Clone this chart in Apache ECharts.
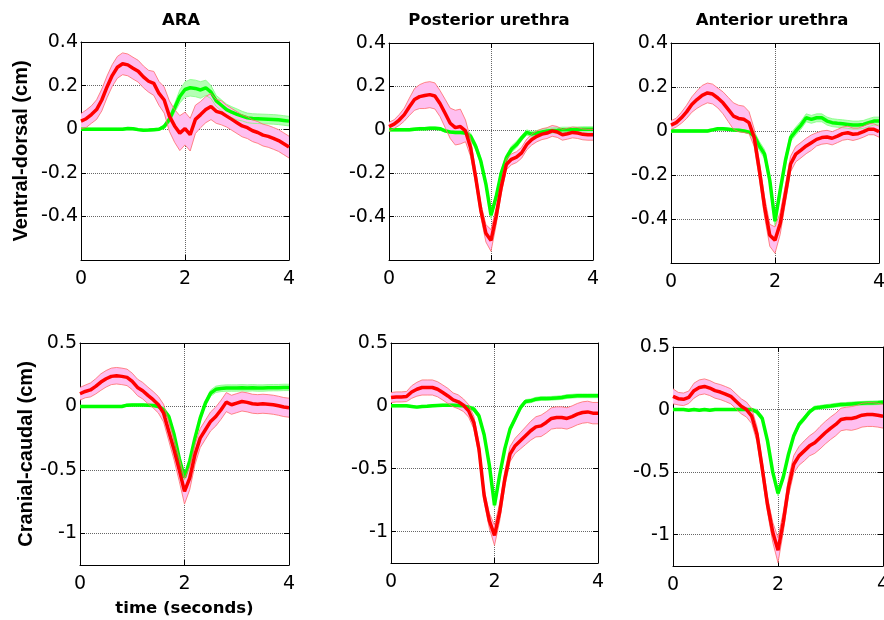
<!DOCTYPE html>
<html lang="en">
<head>
<meta charset="UTF-8">
<title>Ventral-dorsal / Cranial-caudal displacement</title>
<script src="https://cdn.jsdelivr.net/npm/echarts@6/dist/echarts.min.js"></script>
<style>
  html, body { margin: 0; padding: 0; background: #fff; }
  #main { width: 884px; height: 620px; }
</style>
</head>
<body>
<div id="main"></div>
<script>
// time axis (seconds)
var time = [0,0.1,0.2,0.3,0.4,0.5,0.6,0.7,0.8,0.9,1,1.1,1.2,1.3,1.4,1.5,1.6,1.7,1.8,1.9,2,2.1,2.2,2.3,2.4,2.5,2.6,2.7,2.8,2.9,3,3.1,3.2,3.3,3.4,3.5,3.6,3.7,3.8,3.9,4];

// ---- ventral-dorsal (top row) ----
var araVdRed = [0.037,0.048,0.067,0.09,0.134,0.194,0.246,0.284,0.30,0.295, 0.28,0.266,0.24,0.22,0.21,0.164,0.134,0.06,0.015,-0.018, 0.003,-0.025,0.045,0.067,0.09,0.104,0.082,0.075,0.06,0.045, 0.03,0.015,0.007,-0.007,-0.015,-0.027,-0.033,-0.042,-0.052,-0.067,-0.082];
var araVdRedSd = [0.035,0.04,0.04,0.045,0.05,0.05,0.05,0.05,0.05,0.05, 0.05,0.05,0.05,0.05,0.055,0.055,0.06,0.07,0.075,0.08, 0.075,0.075,0.065,0.06,0.06,0.06,0.055,0.055,0.05,0.05, 0.05,0.05,0.05,0.05,0.05,0.05,0.05,0.05,0.05,0.05,0.05];
var araVdGreen = [0,0,0,0,0,0,0,0,0,0.003, 0.002,-0.002,-0.005,-0.004,-0.002,0,0.012,0.045,0.097,0.15, 0.182,0.19,0.187,0.18,0.19,0.17,0.13,0.11,0.09,0.078, 0.068,0.06,0.052,0.049,0.048,0.047,0.046,0.045,0.043,0.04,0.037];
var araVdGreenSd = [0.005,0.005,0.005,0.005,0.005,0.005,0.005,0.005,0.005,0.005, 0.005,0.005,0.005,0.005,0.005,0.005,0.01,0.015,0.02,0.03, 0.035,0.038,0.038,0.038,0.035,0.03,0.025,0.025,0.025,0.025, 0.025,0.022,0.022,0.022,0.022,0.022,0.022,0.022,0.022,0.022,0.022];

var postVdRed = [0.015,0.026,0.045,0.07,0.106,0.14,0.153,0.158,0.162,0.156, 0.121,0.076,0.03,0.01,0.015,-0.005,-0.083,-0.22,-0.37,-0.477, -0.51,-0.40,-0.265,-0.16,-0.136,-0.126,-0.106,-0.068,-0.045,-0.03, -0.02,-0.015,-0.005,-0.01,-0.023,-0.018,-0.012,-0.015,-0.021,-0.023,-0.023];
var postVdRedSd = [0.02,0.02,0.025,0.03,0.04,0.05,0.055,0.06,0.06,0.06, 0.06,0.065,0.07,0.08,0.08,0.05,0.04,0.03,0.03,0.04, 0.05,0.04,0.03,0.025,0.025,0.025,0.025,0.025,0.025,0.025, 0.025,0.025,0.025,0.025,0.025,0.025,0.025,0.025,0.025,0.025,0.025];
var postVdGreen = [0,0,0,0,0,0.003,0.005,0.005,0.007,0.007, 0.005,-0.005,-0.01,-0.012,-0.012,-0.015,-0.03,-0.076,-0.144,-0.25, -0.394,-0.31,-0.2,-0.13,-0.09,-0.068,-0.038,-0.012,-0.02,-0.015, -0.01,-0.005,-0.003,-0.002,0,0,0,0.001,0.002,0.002,0.002];
var postVdGreenSd = [0.006,0.006,0.006,0.006,0.006,0.006,0.006,0.006,0.006,0.006, 0.006,0.006,0.006,0.006,0.006,0.006,0.015,0.015,0.015,0.015, 0.015,0.015,0.015,0.015,0.015,0.015,0.012,0.012,0.012,0.012, 0.012,0.012,0.012,0.012,0.012,0.012,0.012,0.012,0.012,0.012,0.012];

var antVdRed = [0.027,0.038,0.06,0.087,0.12,0.143,0.162,0.173,0.168,0.15, 0.128,0.098,0.068,0.057,0.053,0.038,-0.03,-0.18,-0.346,-0.474, -0.496,-0.42,-0.286,-0.15,-0.105,-0.087,-0.068,-0.053,-0.038,-0.03, -0.027,-0.033,-0.023,-0.012,-0.008,-0.015,-0.012,-0.003,0.008,0.008,-0.003];
var antVdRedSd = [0.02,0.02,0.025,0.03,0.035,0.04,0.045,0.045,0.045,0.045, 0.05,0.055,0.06,0.06,0.06,0.05,0.04,0.04,0.045,0.05, 0.06,0.05,0.04,0.035,0.035,0.035,0.035,0.035,0.03,0.03, 0.03,0.03,0.03,0.03,0.03,0.028,0.025,0.025,0.025,0.025,0.025];
var antVdGreen = [0,0,0,0,0,0,0,0,0.005,0.01, 0.01,0.008,0.005,0.003,0,-0.005,-0.022,-0.068,-0.105,-0.225, -0.41,-0.27,-0.135,-0.03,0,0.027,0.06,0.053,0.06,0.06, 0.045,0.038,0.035,0.033,0.03,0.027,0.027,0.03,0.038,0.045,0.045];
var antVdGreenSd = [0.006,0.006,0.006,0.006,0.006,0.006,0.006,0.006,0.006,0.006, 0.006,0.006,0.006,0.006,0.006,0.006,0.02,0.02,0.02,0.02, 0.02,0.02,0.02,0.018,0.018,0.018,0.018,0.018,0.018,0.018, 0.018,0.018,0.018,0.018,0.018,0.018,0.018,0.018,0.018,0.018,0.018];

// ---- cranial-caudal (bottom row) ----
var araCcRed = [0.1,0.118,0.13,0.158,0.192,0.218,0.237,0.242,0.237,0.229, 0.197,0.15,0.124,0.087,0.053,0.013,-0.053,-0.197,-0.342,-0.5, -0.67,-0.566,-0.38,-0.25,-0.184,-0.118,-0.079,-0.026,0.034,0.013, 0.026,0.039,0.032,0.021,0.018,0.021,0.018,0.013,0.005,-0.005,-0.01];
var araCcRedSd = [0.05,0.05,0.055,0.06,0.065,0.065,0.065,0.065,0.065,0.065, 0.065,0.065,0.065,0.065,0.065,0.065,0.07,0.075,0.08,0.09, 0.1,0.09,0.08,0.075,0.075,0.075,0.075,0.075,0.075,0.075, 0.075,0.075,0.075,0.075,0.075,0.075,0.075,0.075,0.075,0.075,0.075];
var araCcGreen = [0,0,0,0,0,0,0,0,0,0.01, 0.012,0.012,0.012,0.01,0.008,0,-0.026,-0.08,-0.22,-0.41, -0.56,-0.43,-0.25,-0.092,0.026,0.105,0.135,0.142,0.145,0.145, 0.145,0.147,0.145,0.147,0.145,0.145,0.147,0.148,0.148,0.15,0.15];
var araCcGreenSd = [0.008,0.008,0.008,0.008,0.008,0.008,0.008,0.008,0.008,0.008, 0.008,0.008,0.008,0.008,0.008,0.008,0.02,0.02,0.02,0.02, 0.02,0.02,0.02,0.02,0.02,0.025,0.025,0.025,0.025,0.025, 0.025,0.025,0.025,0.025,0.025,0.025,0.025,0.025,0.025,0.025,0.025];

var postCcRed = [0.066,0.071,0.071,0.074,0.11,0.132,0.146,0.146,0.146,0.132, 0.106,0.079,0.048,0.032,0.005,-0.04,-0.132,-0.344,-0.714,-0.913, -1.03,-0.846,-0.58,-0.384,-0.317,-0.278,-0.238,-0.198,-0.167,-0.159, -0.132,-0.1,-0.093,-0.093,-0.1,-0.085,-0.066,-0.053,-0.048,-0.058,-0.058];
var postCcRedSd = [0.04,0.04,0.04,0.04,0.05,0.055,0.06,0.06,0.06,0.06, 0.06,0.06,0.055,0.055,0.05,0.05,0.05,0.05,0.05,0.06, 0.08,0.07,0.06,0.06,0.06,0.065,0.07,0.075,0.08,0.085, 0.085,0.085,0.085,0.085,0.085,0.085,0.085,0.085,0.085,0.085,0.085];
var postCcGreen = [0,0,0,0,-0.005,-0.01,-0.005,-0.003,0,0.003, 0.005,0.005,0.005,0.003,0,-0.01,-0.026,-0.08,-0.23,-0.47, -0.79,-0.55,-0.34,-0.185,-0.1,-0.015,0.035,0.04,0.053,0.058, 0.058,0.06,0.063,0.066,0.074,0.077,0.08,0.08,0.08,0.08,0.08];
var postCcGreenSd = [0.008,0.008,0.008,0.008,0.008,0.008,0.008,0.008,0.008,0.008, 0.008,0.008,0.008,0.008,0.008,0.008,0.02,0.02,0.02,0.02, 0.02,0.02,0.02,0.02,0.02,0.02,0.015,0.015,0.015,0.015, 0.015,0.015,0.015,0.015,0.015,0.015,0.015,0.015,0.015,0.015,0.015];

var antCcRed = [0.106,0.087,0.082,0.098,0.151,0.177,0.185,0.172,0.151,0.14, 0.124,0.106,0.066,0.026,0,-0.053,-0.198,-0.47,-0.76,-0.98, -1.124,-0.9,-0.62,-0.437,-0.37,-0.33,-0.29,-0.265,-0.225,-0.185, -0.15,-0.119,-0.079,-0.071,-0.071,-0.061,-0.045,-0.04,-0.04,-0.045,-0.053];
var antCcRedSd = [0.06,0.05,0.05,0.05,0.06,0.06,0.06,0.06,0.06,0.06, 0.06,0.06,0.06,0.06,0.06,0.06,0.06,0.06,0.06,0.08, 0.1,0.08,0.07,0.07,0.075,0.08,0.08,0.085,0.09,0.09, 0.09,0.09,0.09,0.09,0.095,0.095,0.095,0.095,0.095,0.095,0.095];
var antCcGreen = [0,0,0,-0.005,0,-0.005,0,-0.005,0,0, 0,0,0,0,0,0,-0.018,-0.07,-0.25,-0.5, -0.67,-0.54,-0.357,-0.21,-0.119,-0.071,-0.018,0.013,0.018,0.024, 0.029,0.035,0.04,0.042,0.045,0.048,0.05,0.052,0.053,0.055,0.058];
var antCcGreenSd = [0.008,0.008,0.008,0.008,0.008,0.008,0.008,0.008,0.008,0.008, 0.008,0.008,0.008,0.008,0.008,0.008,0.02,0.02,0.02,0.02, 0.02,0.02,0.02,0.02,0.02,0.02,0.015,0.015,0.015,0.015, 0.015,0.015,0.015,0.015,0.015,0.015,0.015,0.015,0.015,0.015,0.015];

// labels / ticks
var titles = ['ARA', 'Posterior urethra', 'Anterior urethra'];
var rowNames = ['Ventral-dorsal (cm)', 'Cranial-caudal (cm)'];
var xName = 'time (seconds)';
var timeTicks = [0, 2, 4];
var vdTicks = [-0.6, -0.4, -0.2, 0, 0.2, 0.4];
var ccTicks = [-1, -0.5, 0, 0.5];

var panels = [
    { box: { left: 81, top: 42, width: 208, height: 218 }, row: 0, red: araVdRed, redSd: araVdRedSd, green: araVdGreen, greenSd: araVdGreenSd },
    { box: { left: 389, top: 43, width: 204, height: 217 }, row: 0, red: postVdRed, redSd: postVdRedSd, green: postVdGreen, greenSd: postVdGreenSd },
    { box: { left: 671, top: 43, width: 208, height: 220 }, row: 0, red: antVdRed, redSd: antVdRedSd, green: antVdGreen, greenSd: antVdGreenSd },
    { box: { left: 80, top: 343, width: 209, height: 222 }, row: 1, red: araCcRed, redSd: araCcRedSd, green: araCcGreen, greenSd: araCcGreenSd },
    { box: { left: 391, top: 343, width: 207, height: 220 }, row: 1, red: postCcRed, redSd: postCcRedSd, green: postCcGreen, greenSd: postCcGreenSd },
    { box: { left: 673, top: 347, width: 210, height: 219 }, row: 1, red: antCcRed, redSd: antCcRedSd, green: antCcGreen, greenSd: antCcGreenSd }
];

var tickFont = { fontFamily: 'DejaVu Sans', fontSize: 19, color: '#000' };
var grids = [], xAxes = [], yAxes = [], series = [];

// shaded band (mean ± sd) as one polygon, plus its thin edge lines
function bandSeries(g, mean, sd, edge, fill) {
    var rows = time.map(function (t, i) { return [t, mean[i] - sd[i], mean[i] + sd[i]]; });
    var edgeLine = function (k) {
        return {
            type: 'line', xAxisIndex: 2 * g, yAxisIndex: 2 * g, symbol: 'none', silent: true,
            data: rows.map(function (r) { return [r[0], r[k]]; }),
            lineStyle: { color: edge, width: 0.8 }
        };
    };
    return [
        {
            type: 'custom', xAxisIndex: 2 * g, yAxisIndex: 2 * g, silent: true,
            data: rows,
            renderItem: function (params, api) {
                if (params.dataIndex !== 0) return null;
                var upper = rows.map(function (r) { return api.coord([r[0], r[2]]); });
                var lower = rows.map(function (r) { return api.coord([r[0], r[1]]); }).reverse();
                return {
                    type: 'polygon',
                    shape: { points: upper.concat(lower) },
                    style: { fill: fill, stroke: null }
                };
            }
        },
        edgeLine(1),
        edgeLine(2)
    ];
}

function meanSeries(g, mean, color) {
    return {
        type: 'line', xAxisIndex: 2 * g, yAxisIndex: 2 * g, symbol: 'none', silent: true,
        data: time.map(function (t, i) { return [t, mean[i]]; }),
        lineStyle: { color: color, width: 3.5 }
    };
}

panels.forEach(function (p, g) {
    grids.push(Object.assign({ outerBoundsMode: 'none', containLabel: false }, p.box));
    var ymin = p.row === 0 ? -0.6 : -1.25;
    var ymax = p.row === 0 ? 0.4 : 0.5;
    var yTicks = p.row === 0 ? vdTicks : ccTicks;
    var yLabels = p.row === 0 ? vdTicks.slice(1) : ccTicks;
    var line = { show: true, onZero: false, lineStyle: { color: '#000', width: 1 } };
    var tick = { show: true, inside: true, length: 5, lineStyle: { color: '#000' } };

    xAxes.push({
        gridIndex: g, type: 'value', min: 0, max: 4, interval: 2, position: 'bottom',
        axisLine: line, axisTick: tick,
        axisLabel: Object.assign({ margin: 10, customValues: timeTicks }, tickFont),
        splitLine: { show: true, lineStyle: { color: '#666', type: 'dotted', width: 1 } },
        name: g === 3 ? xName : '', nameLocation: 'middle', nameGap: 35,
        nameTextStyle: { fontFamily: 'DejaVu Sans', fontWeight: 'bold', fontSize: 16.5, color: '#000' }
    });
    xAxes.push({
        gridIndex: g, type: 'value', min: 0, max: 4, interval: 2, position: 'top',
        axisLine: line, axisTick: tick, axisLabel: { show: false }, splitLine: { show: false }
    });
    yAxes.push({
        gridIndex: g, type: 'value', min: ymin, max: ymax, position: 'left',
        axisLine: line,
        axisTick: Object.assign({ customValues: yTicks }, tick),
        axisLabel: Object.assign({ margin: 3, customValues: yLabels }, tickFont),
        splitLine: { show: true, lineStyle: { color: '#666', type: 'dotted', width: 1 } },
        name: g % 3 === 0 ? rowNames[p.row] : '', nameLocation: 'middle',
        nameGap: p.row === 0 ? 50 : 41,
        nameTextStyle: { fontFamily: 'Liberation Sans', fontWeight: 'bold', fontSize: 20, color: '#000' }
    });
    yAxes.push({
        gridIndex: g, type: 'value', min: ymin, max: ymax, position: 'right',
        axisLine: line,
        axisTick: Object.assign({ customValues: yTicks }, tick),
        axisLabel: { show: false }, splitLine: { show: false }
    });

    // drawing order: green band, green mean, pink band, red mean
    series = series.concat(bandSeries(g, p.green, p.greenSd, '#7dff7d', '#b4ffb4'));
    series.push(meanSeries(g, p.green, '#00ff00'));
    series = series.concat(bandSeries(g, p.red, p.redSd, '#ff6a6a', '#ffbff0'));
    series.push(meanSeries(g, p.red, '#ff0000'));
});

var titleX = [181, 489, 772];
var graphics = titles.map(function (t, i) {
    return {
        type: 'text', x: titleX[i], y: 21,
        style: {
            text: t, fill: '#000', align: 'center', verticalAlign: 'middle',
            textAlign: 'center', textVerticalAlign: 'middle',
            font: 'bold 16.5px "DejaVu Sans"'
        }
    };
});

var myChart = echarts.init(document.getElementById('main'), null, { renderer: 'canvas' });
myChart.setOption({
    animation: false,
    backgroundColor: '#fff',
    textStyle: { fontFamily: 'DejaVu Sans' },
    grid: grids,
    xAxis: xAxes,
    yAxis: yAxes,
    graphic: graphics,
    series: series
});
</script>
</body>
</html>
